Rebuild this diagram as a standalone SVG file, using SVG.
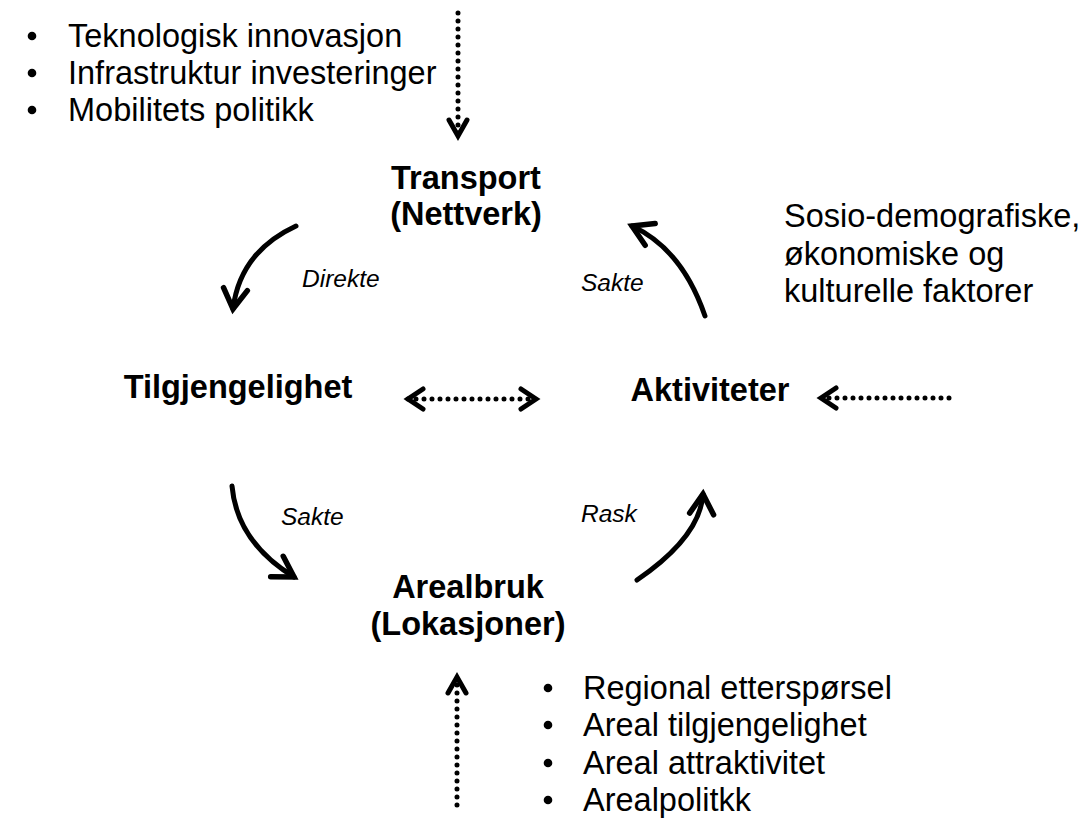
<svg xmlns="http://www.w3.org/2000/svg" width="1083" height="819" viewBox="0 0 1083 819">
<defs>
<style>
text{font-family:"Liberation Sans",Arial,sans-serif;fill:#000}
.node{font-size:32.5px;font-weight:bold;text-anchor:middle}
.list{font-size:32.5px}
.lbl{font-size:24.5px;font-style:italic}
.curve{fill:none;stroke:#000;stroke-width:5;stroke-linecap:round}
.dots{fill:none;stroke:#000;stroke-width:5;stroke-linecap:round;stroke-dasharray:0 8}
</style>
<marker id="head" markerUnits="userSpaceOnUse" viewBox="-26 -16 32 32" markerWidth="32" markerHeight="32" refX="0" refY="0" orient="auto" overflow="visible">
<path d="M-20,-12 L0,0 L-20,12" fill="none" stroke="#000" stroke-width="5.5" stroke-linejoin="miter" stroke-linecap="round"/>
</marker>
<marker id="dhead" markerUnits="userSpaceOnUse" viewBox="-26 -16 32 32" markerWidth="32" markerHeight="32" refX="0" refY="0" orient="auto-start-reverse" overflow="visible">
<path d="M-15,-10 L0,0 L-15,10" fill="none" stroke="#000" stroke-width="5" stroke-linejoin="miter" stroke-linecap="round"/>
</marker>
<marker id="dheadn" markerUnits="userSpaceOnUse" viewBox="-26 -16 32 32" markerWidth="32" markerHeight="32" refX="0" refY="0" orient="auto" overflow="visible">
<path d="M-16,-9 L0,0 L-16,9" fill="none" stroke="#000" stroke-width="5" stroke-linejoin="miter" stroke-linecap="round"/>
</marker>
</defs>
<rect width="1083" height="819" fill="#ffffff"/>

<g id="connectors">
<path class="curve" d="M296,226 Q240,252 233,309" marker-end="url(#head)"/>
<path class="curve" d="M705,316 Q682,249 632,226" marker-end="url(#head)"/>
<path class="curve" d="M232,486 Q237,542 294,577" marker-end="url(#head)"/>
<path class="curve" d="M637,580 Q700,537 703,494" marker-end="url(#head)"/>
<path class="dots" d="M458,13 L458,136" marker-end="url(#dheadn)"/>
<path class="dots" d="M457,805 L457,677" marker-end="url(#dheadn)"/>
<path class="dots" d="M408,399 L536,399" marker-start="url(#dhead)" marker-end="url(#dhead)"/>
<path class="dots" d="M949,398 L821,398" marker-end="url(#dhead)"/>
<text class="lbl" x="302" y="287">Direkte</text>
<text class="lbl" x="581" y="291">Sakte</text>
<text class="lbl" x="281" y="525">Sakte</text>
<text class="lbl" x="581" y="522">Rask</text>
</g>

<g id="drivers-transport">
<circle cx="32" cy="36" r="4.3"/>
<circle cx="32" cy="73" r="4.3"/>
<circle cx="32" cy="110" r="4.3"/>
<text class="list" x="68" y="47">Teknologisk innovasjon</text>
<text class="list" x="68" y="84">Infrastruktur investeringer</text>
<text class="list" x="68" y="121">Mobilitets politikk</text>
</g>

<g id="node-transport">
<text class="node" x="466" y="189">Transport</text>
<text class="node" x="466" y="225">(Nettverk)</text>
</g>

<g id="drivers-activities">
<text class="list" x="784" y="227">Sosio-demografiske,</text>
<text class="list" x="784" y="265">økonomiske og</text>
<text class="list" x="784" y="302">kulturelle faktorer</text>
</g>

<g id="node-tilgjengelighet">
<text class="node" x="238" y="398">Tilgjengelighet</text>
</g>

<g id="node-aktiviteter">
<text class="node" x="710" y="401">Aktiviteter</text>
</g>

<g id="node-arealbruk">
<text class="node" x="468" y="598">Arealbruk</text>
<text class="node" x="468" y="635">(Lokasjoner)</text>
</g>

<g id="drivers-arealbruk">
<circle cx="548" cy="688" r="4.3"/>
<circle cx="548" cy="725" r="4.3"/>
<circle cx="548" cy="763" r="4.3"/>
<circle cx="548" cy="800" r="4.3"/>
<text class="list" x="583" y="699">Regional etterspørsel</text>
<text class="list" x="583" y="736">Areal tilgjengelighet</text>
<text class="list" x="583" y="774">Areal attraktivitet</text>
<text class="list" x="583" y="811">Arealpolitkk</text>
</g>
</svg>
